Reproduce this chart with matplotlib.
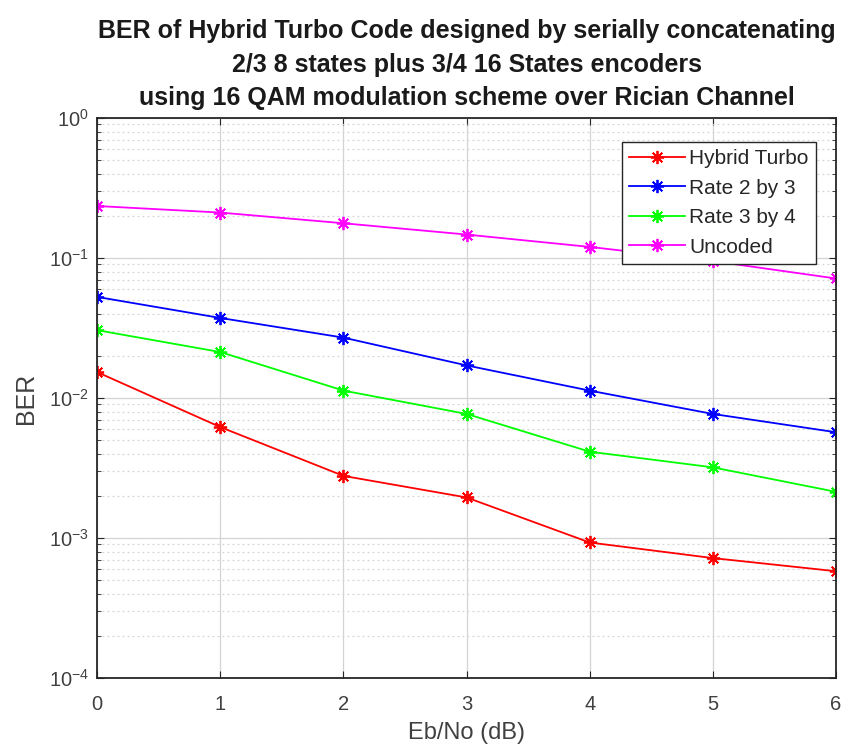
import matplotlib
matplotlib.use("Agg")
import matplotlib.pyplot as plt
from matplotlib.ticker import LogLocator, NullFormatter

plt.rcParams['font.family'] = ['Liberation Sans', 'DejaVu Sans']
plt.rcParams['axes.unicode_minus'] = False

ebno = [0, 1, 2, 3, 4, 5, 6]
hybrid = [0.0153, 0.0062, 0.00278, 0.00195, 0.00093, 0.00072, 0.00058]
rate23 = [0.0527, 0.0373, 0.027, 0.0171, 0.0113, 0.0077, 0.0057]
rate34 = [0.0305, 0.0213, 0.0113, 0.0077, 0.00414, 0.0032, 0.00214]
uncoded = [0.235, 0.211, 0.177, 0.147, 0.120, 0.095, 0.0714]
labels = ['Hybrid Turbo', 'Rate 2 by 3', 'Rate 3 by 4', 'Uncoded']
colors = ['#ff0000', '#0000ff', '#00ff00', '#ff00ff']

fig = plt.figure(figsize=(8.46, 7.56), dpi=100)
ax = fig.add_axes([0.115, 0.103, 0.873, 0.741])

for y, lab, c in zip([hybrid, rate23, rate34, uncoded], labels, colors):
    ax.semilogy(ebno, y, '-', marker=(8, 2, 0), color=c, label=lab,
                linewidth=1.3, markersize=9.5, markeredgewidth=1.3)

ax.set_xlim(0, 6)
ax.set_ylim(1e-4, 1e0)
ax.set_xticks(ebno)
ax.yaxis.set_major_locator(LogLocator(base=10, numticks=10))
ax.yaxis.set_minor_locator(LogLocator(base=10, subs=range(2, 10), numticks=20))
ax.yaxis.set_minor_formatter(NullFormatter())

ax.grid(True, which='major', color='#d4d4d4', linewidth=0.9, linestyle='-')
ax.grid(True, which='minor', axis='y', color='#d4d4d4', linewidth=0.9, linestyle=(0, (1.5, 2.5)))
ax.set_axisbelow(True)

ax.tick_params(which='both', direction='in', top=True, right=True, labelsize=14.5,
               colors='#262626', labelcolor='#404040')
ax.tick_params(axis='x', which='major', pad=12)
ax.tick_params(axis='y', which='major', pad=6)
ax.tick_params(which='major', length=5)
ax.tick_params(which='minor', length=3)
for s in ax.spines.values():
    s.set_color('#262626')
    s.set_linewidth(1.3)

ax.set_xlabel('Eb/No (dB)', fontsize=17, color='#404040', labelpad=6)
ax.set_ylabel('BER', fontsize=18, color='#404040', labelpad=8)
ax.set_title('BER of Hybrid Turbo Code designed by serially concatenating\n'
             '2/3 8 states plus 3/4 16 States encoders\n'
             'using 16 QAM modulation scheme over Rician Channel',
             fontsize=18, fontweight='bold', pad=9, linespacing=1.5, color='#1a1a1a')

leg = ax.legend(loc='upper right', fontsize=15, fancybox=False, framealpha=1,
                edgecolor='#262626', bbox_to_anchor=(0.0, 0.0, 0.973, 0.957),
                borderaxespad=0.0, handlelength=2.7,
                handletextpad=0.2, borderpad=0.35, labelspacing=0.5)
leg.get_frame().set_linewidth(1.0)
for t in leg.get_texts():
    t.set_color('#262626')

fig.savefig('out.png', dpi=100)
